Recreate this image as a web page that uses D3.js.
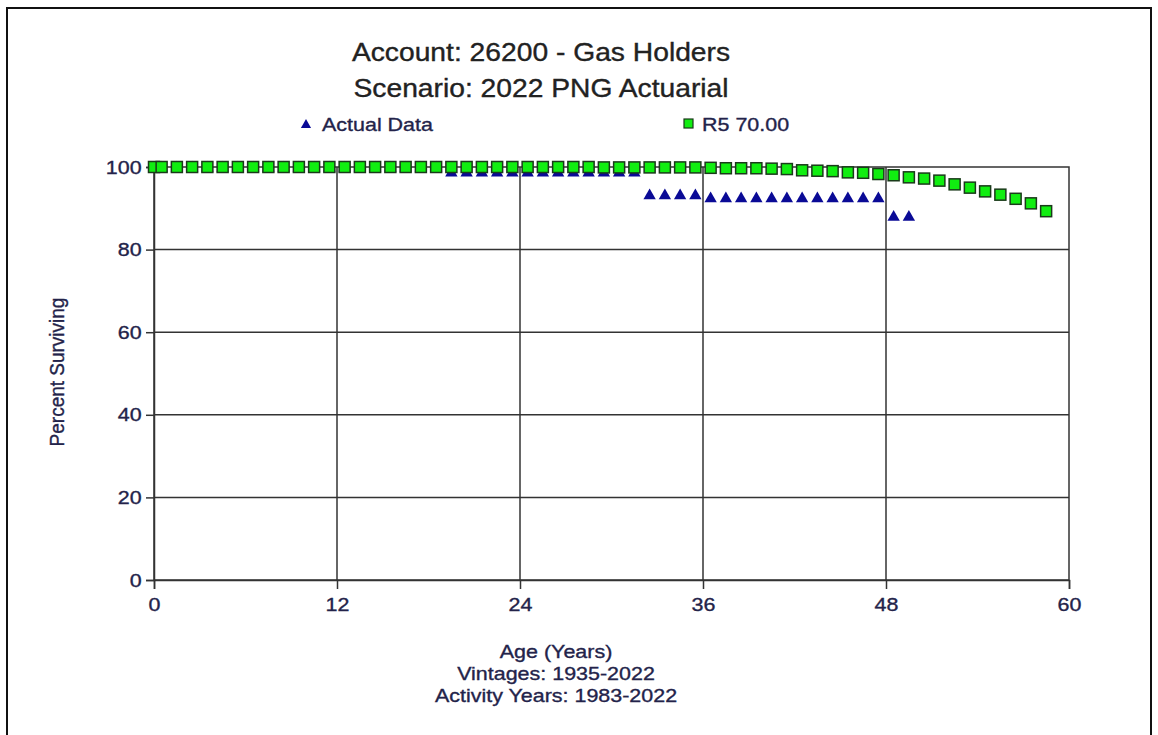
<!DOCTYPE html>
<html>
<head>
<meta charset="utf-8">
<script src="https://cdn.jsdelivr.net/npm/d3@7"></script>
<style>
  body { margin: 0; background: #fff; }
  text { font-family: "Liberation Sans", Arial, sans-serif; stroke-width: 0.35px; }
</style>
</head>
<body>
<div id="chart"></div>
<script>
// Declare constants
const FRAME_WIDTH = 1158;
const FRAME_HEIGHT = 735;
const MARGINS = {left: 154, right: 89, top: 167, bottom: 155};

const VIS_WIDTH = FRAME_WIDTH - MARGINS.left - MARGINS.right;
const VIS_HEIGHT = FRAME_HEIGHT - MARGINS.top - MARGINS.bottom;

// the source picture is a little wider than tall, so text is stretched sideways
const STRETCH = 1.13;

// R5 70.00 curve (ages, percent surviving)
const curveAges = [0, 0.5, 1.5, 2.5, 3.5, 4.5, 5.5, 6.5, 7.5, 8.5, 9.5, 10.5, 11.5, 12.5,
  13.5, 14.5, 15.5, 16.5, 17.5, 18.5, 19.5, 20.5, 21.5, 22.5, 23.5, 24.5, 25.5, 26.5,
  27.5, 28.5, 29.5, 30.5, 31.5, 32.5, 33.5, 34.5, 35.5, 36.5, 37.5, 38.5, 39.5, 40.5,
  41.5, 42.5, 43.5, 44.5, 45.5, 46.5, 47.5, 48.5, 49.5, 50.5, 51.5, 52.5, 53.5, 54.5,
  55.5, 56.5, 57.5, 58.5];
const curveValues = [100, 100, 100, 100, 100, 100, 100, 100, 100, 100, 100, 100, 100, 100,
  100, 100, 100, 100, 100, 100, 100, 100, 100, 100, 100, 100, 100, 100,
  100, 100, 99.9, 99.9, 99.9, 99.9, 99.9, 99.9, 99.9, 99.8, 99.7, 99.7, 99.7, 99.6,
  99.5, 99.2, 99.1, 99.0, 98.7, 98.6, 98.3, 98.0, 97.5, 97.2, 96.7, 95.8, 95.0, 94.1,
  93.3, 92.3, 91.2, 89.3];

// Actual data (ages, percent surviving)
const actualAges = [0.5, 1.5, 2.5, 3.5, 4.5, 5.5, 6.5, 7.5, 8.5, 9.5, 10.5, 11.5, 12.5,
  13.5, 14.5, 15.5, 16.5, 17.5, 18.5, 19.5, 20.5, 21.5, 22.5, 23.5, 24.5, 25.5, 26.5,
  27.5, 28.5, 29.5, 30.5, 31.5, 32.5, 33.5, 34.5, 35.5, 36.5, 37.5, 38.5, 39.5, 40.5,
  41.5, 42.5, 43.5, 44.5, 45.5, 46.5, 47.5, 48.5, 49.5];
const actualValues = [100, 100, 100, 100, 100, 100, 100, 100, 100, 100, 100, 100, 100,
  100, 100, 100, 100, 100, 100, 98.8, 98.8, 98.8, 98.8, 98.8, 98.8, 98.8, 98.8,
  98.8, 98.8, 98.8, 98.8, 98.8, 93.3, 93.3, 93.3, 93.3, 92.6, 92.6, 92.6, 92.6, 92.6,
  92.6, 92.6, 92.6, 92.6, 92.6, 92.6, 92.6, 88.1, 88.1];

const xTicks = [0, 12, 24, 36, 48, 60];
const yTicks = [0, 20, 40, 60, 80, 100];

const titleLines = ["Account: 26200 - Gas Holders", "Scenario: 2022 PNG Actuarial"];
const xTitleLines = ["Age (Years)", "Vintages: 1935-2022", "Activity Years: 1983-2022"];

const TEXT_COLOR = "#23234a";
const LINE_COLOR = "#333";

const svg = d3.select("#chart")
  .append("svg")
    .attr("width", FRAME_WIDTH)
    .attr("height", FRAME_HEIGHT);

// put a stretched text at x, y
function label(parent, x, y, txt, size, anchor, color) {
  return parent.append("text")
    .attr("transform", `translate(${x},${y}) scale(${STRETCH},1)`)
    .attr("text-anchor", anchor)
    .attr("fill", color)
    .attr("stroke", color)
    .style("font-size", size + "px")
    .text(txt);
}

// outer frame
svg.append("rect")
  .attr("x", 7).attr("y", 8)
  .attr("width", 1144).attr("height", 740)
  .attr("fill", "none")
  .attr("stroke", "#111")
  .attr("stroke-width", 2);

const xScale = d3.scaleLinear().domain([0, 60]).range([MARGINS.left, MARGINS.left + VIS_WIDTH]);
const yScale = d3.scaleLinear().domain([0, 100]).range([MARGINS.top + VIS_HEIGHT, MARGINS.top]);

// grid lines
svg.append("g").selectAll("line")
  .data(yTicks.filter(d => d > 0 && d < 100))
  .join("line")
    .attr("x1", xScale(0)).attr("x2", xScale(60))
    .attr("y1", d => yScale(d)).attr("y2", d => yScale(d))
    .attr("stroke", LINE_COLOR).attr("stroke-width", 1.5);

svg.append("g").selectAll("line")
  .data(xTicks.filter(d => d > 0 && d < 60))
  .join("line")
    .attr("x1", d => xScale(d)).attr("x2", d => xScale(d))
    .attr("y1", yScale(0)).attr("y2", yScale(100))
    .attr("stroke", LINE_COLOR).attr("stroke-width", 1.5);

// plot box
svg.append("rect")
  .attr("x", xScale(0)).attr("y", yScale(100))
  .attr("width", VIS_WIDTH).attr("height", VIS_HEIGHT)
  .attr("fill", "none")
  .attr("stroke", LINE_COLOR).attr("stroke-width", 1.5);

// axes
const xAxis = svg.append("g")
  .attr("transform", `translate(0,${yScale(0)})`)
  .call(d3.axisBottom(xScale).tickValues(xTicks).tickSize(9).tickPadding(9));
const yAxis = svg.append("g")
  .attr("transform", `translate(${xScale(0)},0)`)
  .call(d3.axisLeft(yScale).tickValues(yTicks).tickSize(8).tickPadding(3));

[xAxis, yAxis].forEach(ax => {
  ax.select(".domain").attr("stroke", LINE_COLOR).attr("stroke-width", 1.5);
  ax.selectAll(".tick line").attr("stroke", LINE_COLOR).attr("stroke-width", 1.5);
  ax.selectAll(".tick text")
    .attr("fill", TEXT_COLOR)
    .attr("stroke", TEXT_COLOR)
    .attr("transform", `scale(${STRETCH},1)`)
    .style("font-size", "19px")
    .style("font-family", "'Liberation Sans', Arial, sans-serif");
});

// actual data triangles sit under the squares
const triangle = d3.symbol().type(d3.symbolTriangle).size(66);
svg.append("g").selectAll("path")
  .data(actualAges.map((a, i) => ({age: a, value: actualValues[i]})))
  .join("path")
    .attr("d", triangle)
    .attr("transform", d => `translate(${xScale(d.age)},${yScale(d.value) + 1})`)
    .attr("fill", "#0a0a96");

// curve squares
svg.append("g").selectAll("rect")
  .data(curveAges.map((a, i) => ({age: a, value: curveValues[i]})))
  .join("rect")
    .attr("x", d => xScale(d.age) - 5.5)
    .attr("y", d => yScale(d.value) - 5.5)
    .attr("width", 11).attr("height", 11)
    .attr("fill", "#11ee11")
    .attr("stroke", "#1a3a1a")
    .attr("stroke-width", 1.5);

// titles
titleLines.forEach((t, i) => label(svg, 541, 61 + i * 36, t, 25, "middle", "#222"));

// legend
svg.append("path")
  .attr("d", d3.symbol().type(d3.symbolTriangle).size(45))
  .attr("transform", "translate(306,125)")
  .attr("fill", "#0a0a96");
label(svg, 322, 131, "Actual Data", 19, "start", TEXT_COLOR);
svg.append("rect")
  .attr("x", 684).attr("y", 119)
  .attr("width", 9).attr("height", 9)
  .attr("fill", "#11ee11")
  .attr("stroke", "#1a3a1a").attr("stroke-width", 1.2);
label(svg, 702, 131, "R5 70.00", 19, "start", TEXT_COLOR);

// y axis title
svg.append("text")
  .attr("transform", "translate(64,372) rotate(-90) scale(1,1.05)")
  .attr("text-anchor", "middle")
  .attr("fill", TEXT_COLOR)
  .attr("stroke", TEXT_COLOR)
  .style("font-size", "19px")
  .text("Percent Surviving");

// x axis title lines
xTitleLines.forEach((t, i) => label(svg, 556, 658 + i * 22, t, 19, "middle", TEXT_COLOR));
</script>
</body>
</html>
